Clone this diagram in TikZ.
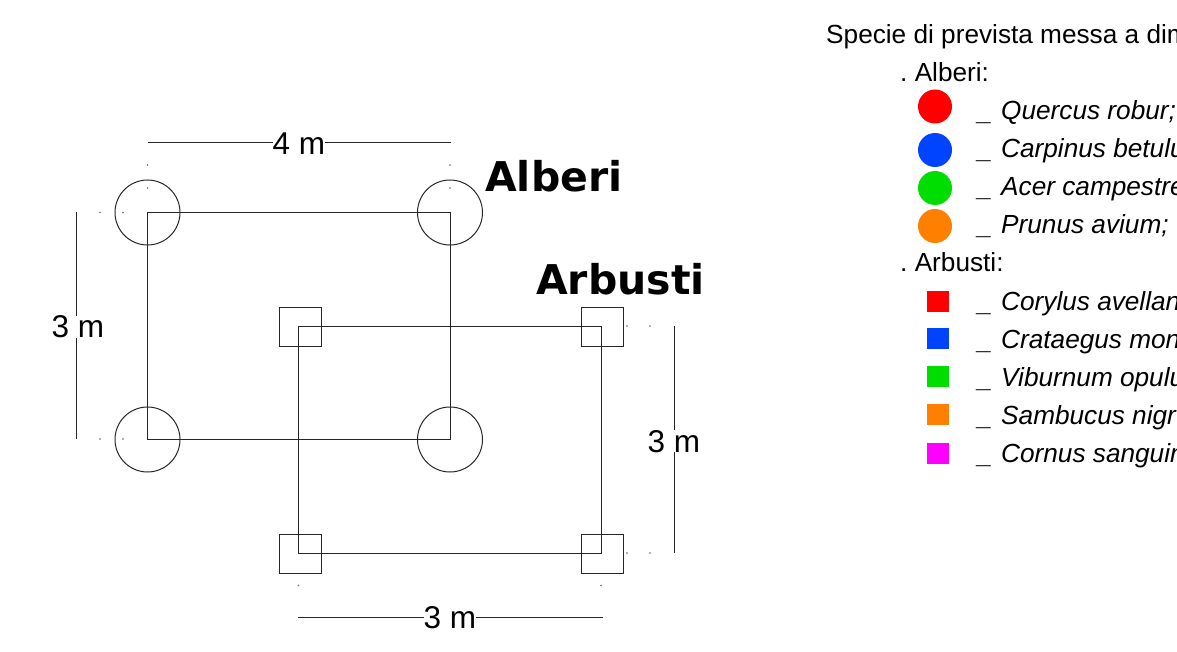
\documentclass[tikz,border=0pt]{standalone}
\usepackage{fontspec}
\setmainfont{Liberation Sans}
\newfontfamily\boldlabel[Scale=1]{DejaVu Sans Bold}
\frenchspacing
\definecolor{legred}{HTML}{FF0000}
\definecolor{legblue}{HTML}{0044FF}
\definecolor{leggreen}{HTML}{00DD00}
\definecolor{legorange}{HTML}{FF8000}
\definecolor{legpink}{HTML}{FF00FF}
\tikzset{
  plan/.style={line width=1pt, black!85},
  treecirc/.style={plan, draw, circle, minimum size=65, inner sep=0},
  shrubsq/.style={plan, draw, rectangle, minimum width=42, minimum height=39, inner sep=0},
  legdot/.style={circle, minimum size=34, inner sep=0},
  legsq/.style={rectangle, minimum width=22.5, minimum height=21, inner sep=0},
  tick/.style={circle, fill=black!60, minimum size=1.8, inner sep=0},
  dimtext/.style={anchor=base west, fill=white, inner sep=0, font=\fontsize{31.5}{32}\selectfont},
  title/.style={anchor=base west, inner sep=0, font=\fontsize{41}{41}\boldlabel},
  legtext/.style={anchor=base west, inner sep=0, font=\fontsize{26.2}{30}\selectfont},
  legbar/.style={anchor=base west, inner sep=0, font=\fontsize{26.2}{30}\selectfont\bfseries},
  legname/.style={anchor=base west, inner sep=0, font=\fontsize{26.2}{30}\selectfont\itshape}
}
\begin{document}
\begin{tikzpicture}[x=1pt, y=-1pt]
  \useasboundingbox (0,0) rectangle (1177,652);
  % tree and shrub positions
  \coordinate (treeTL) at (147.5,212.5);
  \coordinate (treeTR) at (450,212.5);
  \coordinate (treeBL) at (147.5,439.5);
  \coordinate (treeBR) at (450,439.5);
  \coordinate (shrubTL) at (298.5,326.5);
  \coordinate (shrubTR) at (601,326.5);
  \coordinate (shrubBL) at (298.5,553);
  \coordinate (shrubBR) at (601,553);
  \node[treecirc] (circTL) at (treeTL) {};
  \node[treecirc] (circTR) at (treeTR) {};
  \node[treecirc] (circBL) at (treeBL) {};
  \node[treecirc] (circBR) at (treeBR) {};
  \node[shrubsq] (sqTL) at (300,326.5) {};
  \node[shrubsq] (sqTR) at (602.5,326.5) {};
  \node[shrubsq] (sqBL) at (300,553.5) {};
  \node[shrubsq] (sqBR) at (602.5,553.5) {};
  \draw[plan] (treeTL) -- (treeTR) -- (treeBR) -- (treeBL) -- cycle;
  \draw[plan] (shrubTL) -- (shrubTR) -- (shrubBR) -- (shrubBL) -- cycle;
  % dimension lines
  \coordinate (dimTopA) at (147.5,143);
  \coordinate (dimTopB) at (450.5,143);
  \coordinate (dimLeftA) at (76.5,212);
  \coordinate (dimLeftB) at (76.5,439);
  \coordinate (dimRightA) at (674,326);
  \coordinate (dimRightB) at (674,553);
  \coordinate (dimLowA) at (298,617.5);
  \coordinate (dimLowB) at (602.5,617.5);
  \draw[plan] (dimTopA) -- (dimTopB);
  \draw[plan] (dimLeftA) -- (dimLeftB);
  \draw[plan] (dimRightA) -- (dimRightB);
  \draw[plan] (dimLowA) -- (dimLowB);
  \node[dimtext] (labTop) at (272.5,154.5) {4 m};
  \node[dimtext] (labLeft) at (51.5,337.5) {3 m};
  \node[dimtext] (labRight) at (647.5,452) {3 m};
  \node[dimtext] (labLow) at (423.5,628.5) {3 m};
  % small marks
  \node[tick] (markA) at (147.5,165) {};
  \node[tick] (markB) at (147.5,188) {};
  \node[tick] (markC) at (450,165) {};
  \node[tick] (markD) at (450,188) {};
  \node[tick] (markE) at (100,212.5) {};
  \node[tick] (markF) at (123,212.5) {};
  \node[tick] (markG) at (100,439) {};
  \node[tick] (markH) at (123,439) {};
  \node[tick] (markI) at (627,326) {};
  \node[tick] (markJ) at (650,326) {};
  \node[tick] (markK) at (627,553) {};
  \node[tick] (markL) at (650,553) {};
  \node[tick] (markM) at (298.5,585.5) {};
  \node[tick] (markN) at (601,585.5) {};
  % group names
  \node[title] (nameTrees) at (485,192) {Alberi};
  \node[title] (nameShrubs) at (536,294) {Arbusti};
  % legend
  \node[legtext] (legHead) at (826,44) {Specie di prevista messa a dim};
  \node[legtext] (legTrees) at (900,82) {. Alberi:};
  \node[legdot, fill=legred] (dotA) at (935,106.5) {};
  \node[legdot, fill=legblue] (dotB) at (935,150) {};
  \node[legdot, fill=leggreen] (dotC) at (935,188) {};
  \node[legdot, fill=legorange] (dotD) at (935,226) {};
  \node[legbar] (barA) at (976,121) {\_};
  \node[legbar] (barB) at (976,159) {\_};
  \node[legbar] (barC) at (976,197) {\_};
  \node[legbar] (barD) at (976,235) {\_};
  \node[legname] (treeA) at (1001,120) {Quercus robur;};
  \node[legname] (treeB) at (1001,158) {Carpinus betulu};
  \node[legname] (treeC) at (1001,196) {Acer campestre};
  \node[legname] (treeD) at (1001,234) {Prunus avium;};
  \node[legtext] (legShrubs) at (900,272) {. Arbusti:};
  \node[legsq, fill=legred] (boxA) at (938,301.5) {};
  \node[legsq, fill=legblue] (boxB) at (938,338) {};
  \node[legsq, fill=leggreen] (boxC) at (938,376.5) {};
  \node[legsq, fill=legorange] (boxD) at (938,414.5) {};
  \node[legsq, fill=legpink] (boxE) at (938,453.5) {};
  \node[legbar] (barE) at (976,311) {\_};
  \node[legbar] (barF) at (976,349) {\_};
  \node[legbar] (barG) at (976,387) {\_};
  \node[legbar] (barH) at (976,425) {\_};
  \node[legbar] (barI) at (976,463) {\_};
  \node[legname] (shrubA) at (1001,310) {Corylus avellan};
  \node[legname] (shrubB) at (1001,348) {Crataegus mon};
  \node[legname] (shrubC) at (1001,386) {Viburnum opulu};
  \node[legname] (shrubD) at (1001,424) {Sambucus nigr};
  \node[legname] (shrubE) at (1001,462) {Cornus sanguin};
\end{tikzpicture}
\end{document}
